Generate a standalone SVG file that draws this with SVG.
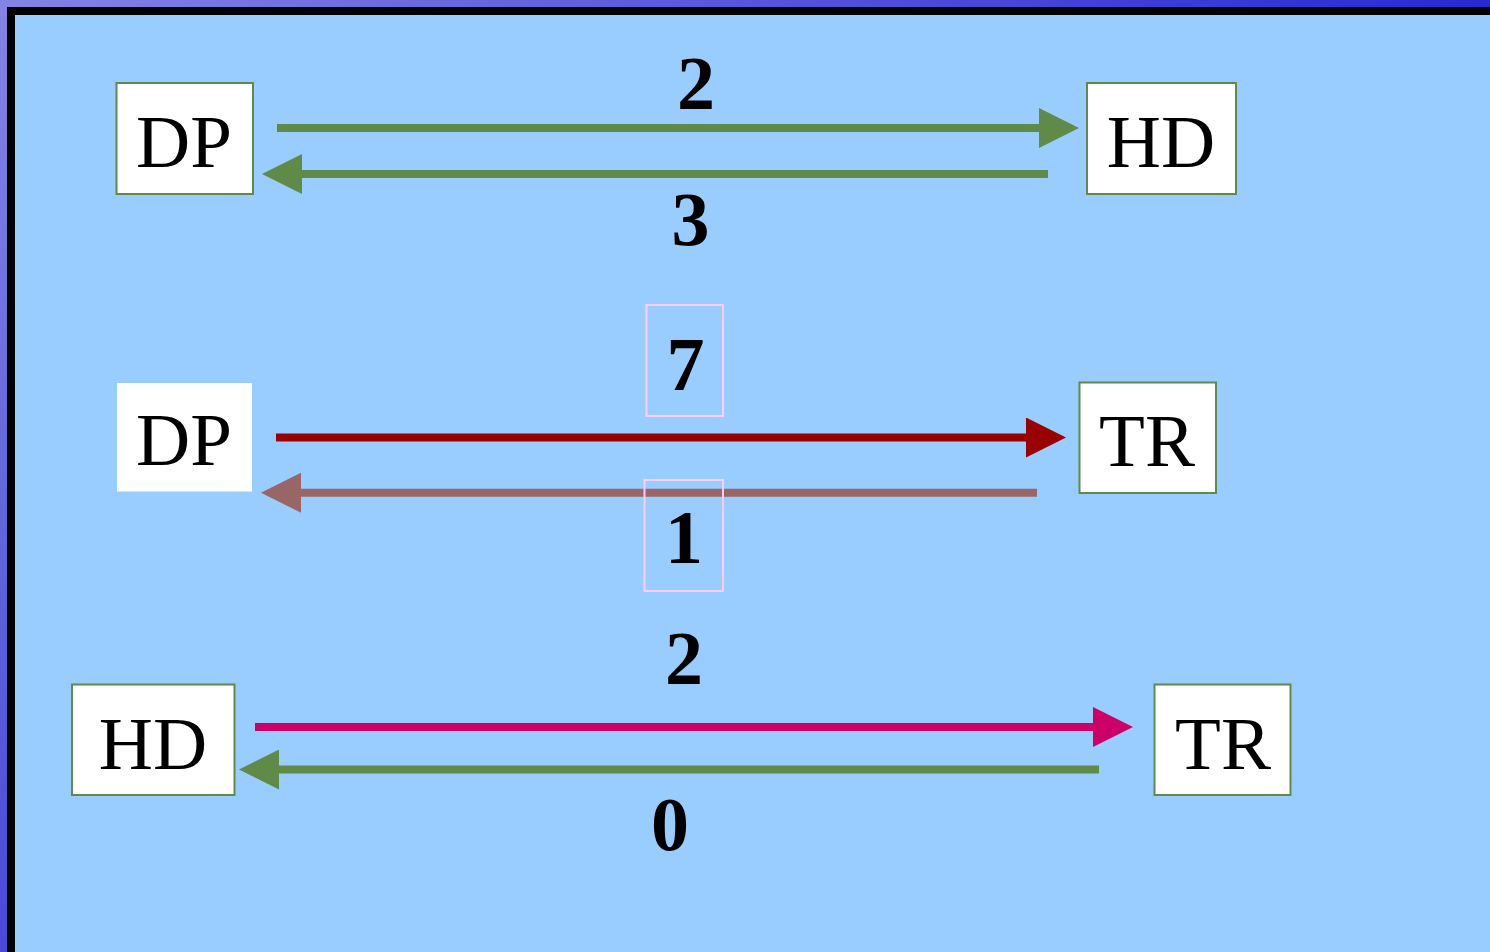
<svg xmlns="http://www.w3.org/2000/svg" width="1490" height="952" viewBox="0 0 1490 952">
<defs>
<linearGradient id="frame" x1="0" y1="0" x2="1000" y2="1000" gradientUnits="userSpaceOnUse">
<stop offset="0" stop-color="#8484e4"/>
<stop offset="1" stop-color="#0a0acc"/>
</linearGradient>
<marker id="hGreen" viewBox="0 0 40 40" refX="0" refY="20" markerWidth="40" markerHeight="40" markerUnits="userSpaceOnUse" orient="auto"><path d="M0,0 L40,20 L0,40 Z" fill="#5f8a48"/></marker>
<marker id="hRed" viewBox="0 0 40 40" refX="0" refY="20" markerWidth="40" markerHeight="40" markerUnits="userSpaceOnUse" orient="auto"><path d="M0,0 L40,20 L0,40 Z" fill="#990000"/></marker>
<marker id="hBrown" viewBox="0 0 40 40" refX="0" refY="20" markerWidth="40" markerHeight="40" markerUnits="userSpaceOnUse" orient="auto"><path d="M0,0 L40,20 L0,40 Z" fill="#996666"/></marker>
<marker id="hMag" viewBox="0 0 40 40" refX="0" refY="20" markerWidth="40" markerHeight="40" markerUnits="userSpaceOnUse" orient="auto"><path d="M0,0 L40,20 L0,40 Z" fill="#cc0066"/></marker>
</defs>
<style>
.box{fill:#ffffff;stroke:#5f8a48;stroke-width:2}
.plain{fill:#ffffff}
.lbl{font-family:"Liberation Serif","Times New Roman",serif;font-size:75px;fill:#000;text-anchor:middle}
.num{font-family:"Liberation Serif","Times New Roman",serif;font-size:76px;font-weight:bold;fill:#000;text-anchor:middle}
.pk{fill:none;stroke:#ffccff;stroke-width:2}
.ln{fill:none;stroke-width:8}
</style>
<rect x="0" y="0" width="1490" height="952" fill="url(#frame)"/>
<rect x="7" y="7" width="1483" height="945" fill="#000"/>
<rect x="15" y="15" width="1475" height="937" fill="#99ccff"/>

<g id="connectors">
<line class="ln" x1="277" y1="128" x2="1039" y2="128" stroke="#5f8a48" marker-end="url(#hGreen)"/>
<line class="ln" x1="1048" y1="174" x2="302" y2="174" stroke="#5f8a48" marker-end="url(#hGreen)"/>
<line class="ln" x1="276" y1="437.5" x2="1026" y2="437.5" stroke="#990000" marker-end="url(#hRed)"/>
<line class="ln" x1="1037" y1="492.7" x2="301" y2="492.7" stroke="#996666" marker-end="url(#hBrown)"/>
<line class="ln" x1="255" y1="727" x2="1093" y2="727" stroke="#cc0066" marker-end="url(#hMag)"/>
<line class="ln" x1="1099" y1="769.5" x2="279" y2="769.5" stroke="#5f8a48" marker-end="url(#hGreen)"/>
</g>

<g id="labels">
<text class="num" x="696" y="109">2</text>
<text class="num" x="690.5" y="245">3</text>
<g id="label7"><rect class="pk" x="646.5" y="305" width="76.5" height="111"/><text class="num" x="685.5" y="390">7</text></g>
<g id="label1"><rect class="pk" x="644.5" y="480" width="78.5" height="111"/><text class="num" x="684" y="562.5">1</text></g>
<text class="num" x="684" y="683.5">2</text>
<text class="num" x="670" y="850">0</text>
</g>

<g id="dp1"><rect class="box" x="116.5" y="83" width="136.5" height="111"/><text class="lbl" x="184" y="166.5">DP</text></g>
<g id="hd1"><rect class="box" x="1087" y="83" width="149" height="111"/><text class="lbl" x="1161" y="166.5">HD</text></g>
<g id="dp2"><rect class="plain" x="117" y="383" width="135" height="108.5"/><text class="lbl" x="184" y="464.5">DP</text></g>
<g id="tr2"><rect class="box" x="1079.5" y="382.5" width="136.5" height="110.5"/><text class="lbl" x="1147" y="466">TR</text></g>
<g id="hd3"><rect class="box" x="72" y="684.5" width="162.5" height="110.5"/><text class="lbl" x="153" y="769">HD</text></g>
<g id="tr3"><rect class="box" x="1154.5" y="684.5" width="136" height="110.5"/><text class="lbl" x="1223" y="768.5">TR</text></g>
</svg>
